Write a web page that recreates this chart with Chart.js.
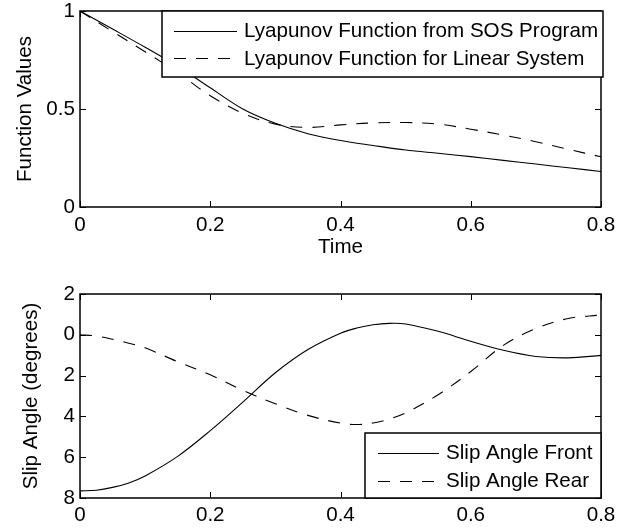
<!DOCTYPE html>
<html><head><meta charset="utf-8">
<script src="https://cdn.jsdelivr.net/npm/chart.js@4/dist/chart.umd.min.js"></script>
<style>
html,body{margin:0;padding:0;background:#fff;overflow:hidden;}
canvas{position:absolute;left:0;}
#c1{top:0;}
#c2{top:265px;}
</style></head><body>
<canvas id="c1"></canvas>
<canvas id="c2"></canvas>
<script>
// ---- data ----
const timeTop = [0, 0.05, 0.1, 0.15, 0.2, 0.25, 0.3, 0.35, 0.4, 0.45, 0.5, 0.55, 0.6, 0.65, 0.7, 0.75, 0.8];
const sosValues = [1.0, 0.908, 0.815, 0.718, 0.608, 0.50, 0.427, 0.374, 0.339, 0.314, 0.291, 0.274, 0.257, 0.238, 0.219, 0.200, 0.181];
const linearValues = [1.0, 0.895, 0.792, 0.685, 0.568, 0.478, 0.423, 0.406, 0.419, 0.429, 0.431, 0.423, 0.397, 0.367, 0.333, 0.294, 0.256];

const timeBottom = [0, 0.025, 0.05, 0.075, 0.1, 0.15, 0.2, 0.25, 0.3, 0.35, 0.4, 0.425, 0.45, 0.475, 0.5, 0.55, 0.6, 0.65, 0.7, 0.75, 0.8];
const slipFront = [-7.65, -7.62, -7.48, -7.26, -6.92, -5.96, -4.70, -3.30, -1.86, -0.72, 0.08, 0.33, 0.49, 0.56, 0.53, 0.17, -0.32, -0.76, -1.06, -1.13, -1.01];
const slipRear = [0, -0.06, -0.22, -0.41, -0.64, -1.32, -1.96, -2.72, -3.38, -3.95, -4.33, -4.40, -4.32, -4.13, -3.83, -2.94, -1.80, -0.52, 0.31, 0.80, 0.97];

const xTicks = [0, 0.2, 0.4, 0.6, 0.8];
const topYTicks = [0, 0.5, 1];
const bottomYTicks = [-8, -6, -4, -2, 0, 2];
const topLegend = ['Lyapunov Function from SOS Program', 'Lyapunov Function for Linear System'];
const bottomLegend = ['Slip Angle Front', 'Slip Angle Rear'];
const topXTitle = 'Time';
const topYTitle = 'Function Values';
const bottomYTitle = 'Slip Angle (degrees)';

// ---- styling ----
const FONT = '"Liberation Sans", Arial, Helvetica, sans-serif';
const FSIZE = 20.6;
Chart.defaults.font.family = FONT;
Chart.defaults.font.size = FSIZE;
Chart.defaults.color = '#000';
const DASH = [12, 10];

function pts(xs, ys) { return xs.map((x, i) => ({x: x, y: ys[i]})); }

function frameLegendPlugin(legendItems, geom) {
  return {
    id: 'frameLegend',
    afterDatasetsDraw(chart) {
      const ctx = chart.ctx, ca = chart.chartArea;
      const xs = chart.scales.x, ys = chart.scales.y;
      ctx.save();
      ctx.strokeStyle = '#000';
      ctx.lineWidth = 1;
      ctx.beginPath();
      xs.ticks.forEach(t => {
        const p = Math.round(xs.getPixelForValue(t.value)) + 0.5;
        ctx.moveTo(p, ca.bottom); ctx.lineTo(p, ca.bottom - 6);
        ctx.moveTo(p, ca.top); ctx.lineTo(p, ca.top + 6);
      });
      ys.ticks.forEach(t => {
        const p = Math.round(ys.getPixelForValue(t.value)) + 0.5;
        ctx.moveTo(ca.left, p); ctx.lineTo(ca.left + 6, p);
        ctx.moveTo(ca.right, p); ctx.lineTo(ca.right - 6, p);
      });
      ctx.stroke();
      ctx.lineWidth = 1.5;
      ctx.strokeRect(ca.left, ca.top, ca.right - ca.left, ca.bottom - ca.top);
      const g = geom(ca);
      ctx.fillStyle = '#fff';
      ctx.fillRect(g.left, g.top, g.right - g.left, g.bottom - g.top);
      ctx.strokeRect(g.left, g.top, g.right - g.left, g.bottom - g.top);
      ctx.font = FSIZE + 'px ' + FONT;
      ctx.fillStyle = '#000';
      ctx.textBaseline = 'middle';
      ctx.textAlign = 'left';
      legendItems.forEach((txt, i) => {
        const y = g.rows[i];
        ctx.lineWidth = 1;
        ctx.setLineDash(i === 1 ? DASH : []);
        ctx.beginPath();
        ctx.moveTo(g.left + g.s0, Math.round(y) + 0.5);
        ctx.lineTo(g.left + g.s1, Math.round(y) + 0.5);
        ctx.stroke();
        ctx.setLineDash([]);
        ctx.fillText(txt, g.left + g.tx, y + 1);
      });
      ctx.restore();
    }
  };
}

function makeChart(id, w, h, cfg) {
  const cv = document.getElementById(id);
  cv.width = w; cv.height = h;
  cv.style.width = w + 'px'; cv.style.height = h + 'px';
  return new Chart(cv, {
    type: 'line',
    data: {datasets: cfg.datasets.map((d, i) => ({
      label: d.label,
      data: d.data,
      borderColor: '#000',
      borderWidth: 1.1,
      borderDash: i === 1 ? DASH : [],
      pointRadius: 0,
      fill: false,
      tension: 0.35
    }))},
    options: {
      responsive: false,
      animation: false,
      devicePixelRatio: 1,
      layout: {padding: {left: 0, right: 28, top: cfg.padTop, bottom: 0}},
      plugins: {legend: {display: false}, tooltip: {enabled: false}},
      scales: {
        x: {
          type: 'linear', min: 0, max: 0.8,
          grid: {display: false, drawTicks: false},
          border: {display: false},
          afterBuildTicks: s => { s.ticks = xTicks.map(v => ({value: v})); },
          afterFit: s => { s.height = cfg.xHeight; s.paddingLeft = 0; s.paddingRight = 0; },
          ticks: {padding: cfg.xPad, maxRotation: 0, autoSkip: false,
            callback: v => String(Math.round(v * 10) / 10)},
          title: cfg.xTitle ? {display: true, text: cfg.xTitle, padding: {top: 0, bottom: 5}} : {display: false}
        },
        y: {
          type: 'linear', min: cfg.yMin, max: cfg.yMax,
          grid: {display: false, drawTicks: false},
          border: {display: false},
          afterBuildTicks: s => { s.ticks = cfg.yTicks.map(v => ({value: v})); },
          afterFit: s => { s.width = 80; s.paddingTop = 0; s.paddingBottom = 0; },
          ticks: {padding: 5, autoSkip: false, callback: cfg.yCb},
          title: {display: true, text: cfg.yTitle, padding: {top: cfg.yTitlePad, bottom: 0}}
        }
      }
    },
    plugins: [frameLegendPlugin(cfg.legend, cfg.geom)]
  });
}

makeChart('c1', 629, 265, {
  datasets: [
    {label: topLegend[0], data: pts(timeTop, sosValues)},
    {label: topLegend[1], data: pts(timeTop, linearValues)}
  ],
  padTop: 11, xHeight: 58, xPad: 6, xTitle: topXTitle,
  yMin: 0, yMax: 1, yTicks: topYTicks, yTitle: topYTitle, yTitlePad: 13,
  yCb: v => String(v),
  legend: topLegend,
  geom: ca => ({left: ca.left + 82, top: ca.top, right: ca.right + 2, bottom: ca.top + 66,
    s0: 12, s1: 75, tx: 82, rows: [ca.top + 19.5, ca.top + 47]})
});

makeChart('c2', 629, 264, {
  datasets: [
    {label: bottomLegend[0], data: pts(timeBottom, slipFront)},
    {label: bottomLegend[1], data: pts(timeBottom, slipRear)}
  ],
  padTop: 29, xHeight: 31, xPad: 5, xTitle: null,
  yMin: -8, yMax: 2, yTicks: bottomYTicks, yTitle: bottomYTitle, yTitlePad: 19,
  yCb: v => String(Math.abs(v)),
  legend: bottomLegend,
  geom: ca => ({left: ca.left + 285, top: ca.bottom - 65, right: ca.right, bottom: ca.bottom,
    s0: 13, s1: 74, tx: 81, rows: [ca.bottom - 45.3, ca.bottom - 17.3]})
});
</script>
</body></html>
